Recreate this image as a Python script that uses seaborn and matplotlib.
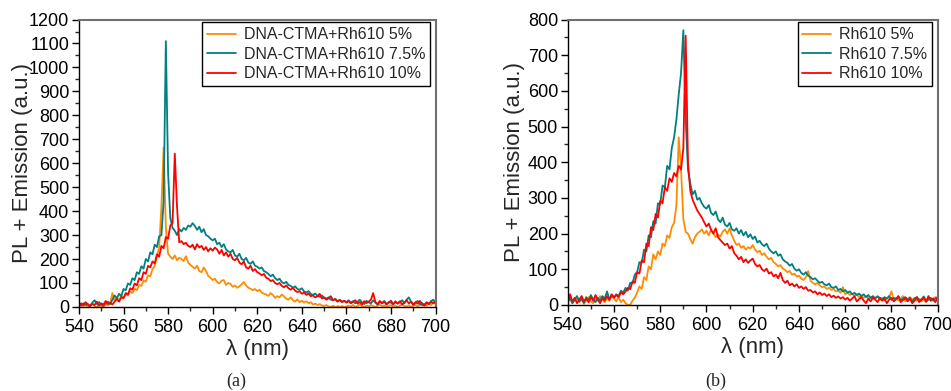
import numpy as np
import pandas as pd
import matplotlib
matplotlib.use("Agg")
import matplotlib.pyplot as plt
from matplotlib.ticker import MultipleLocator
import seaborn as sns

# ---------------- data ----------------
wavelength = list(range(540, 701))  # nm, 1 nm step

left_5 = [8, 12, 3, 10, 0, 6, 14, 4, 0, 9, 5, 0, 10, 7, 14, 58, 25, 40, 28, 46,
          38, 52, 48, 66, 58, 76, 70, 92, 88, 110, 105, 132, 128, 158, 170, 210, 250, 420, 665, 330,
          222, 210, 200, 215, 195, 205, 200, 192, 212, 185, 175, 168, 160, 172, 150, 145, 165, 150, 130, 122,
          112, 118, 104, 98, 110, 112, 92, 100, 96, 84, 90, 80, 86, 94, 104, 90, 80, 76, 70, 75,
          66, 72, 60, 55, 52, 46, 58, 50, 38, 45, 40, 52, 44, 34, 30, 40, 28, 22, 32, 20,
          26, 18, 24, 15, 20, 10, 14, 8, 12, 6, 4, 8, 2, 0, 5, 0, 3, 0, 4, 0,
          2, 5, 2, 8, 0, 4, 10, 3, 0, 6, 2, 8, 4, 0, 5, 10, 3, 6, 0, 4,
          8, 2, 6, 0, 5, 10, 4, 2, 7, 0, 5, 8, 3, 10, 6, 12, 4, 15, 8, 20, 12]

left_75 = [10, 5, 15, 8, 12, 3, 18, 28, 12, 20, 10, 5, 15, 22, 12, 30, 48, 36, 55, 45,
           75, 70, 98, 92, 120, 112, 145, 138, 170, 160, 200, 190, 228, 220, 260, 250, 295, 300, 440, 1110,
           560, 372, 330, 318, 300, 325, 315, 330, 322, 340, 335, 350, 338, 322, 335, 312, 325, 300, 295, 285,
           278, 285, 262, 268, 250, 262, 240, 232, 228, 238, 215, 210, 222, 200, 195, 205, 185, 180, 190, 172,
           168, 160, 165, 150, 145, 138, 128, 135, 120, 112, 118, 104, 98, 105, 92, 88, 80, 86, 75, 72,
           78, 65, 60, 66, 55, 50, 56, 46, 42, 48, 38, 35, 40, 30, 28, 34, 24, 30, 22, 26,
           20, 28, 18, 24, 15, 22, 30, 18, 12, 25, 20, 14, 28, 18, 10, 22, 16, 25, 12, 20,
           18, 10, 24, 14, 20, 28, 15, 30, 40, 22, 12, 18, 25, 10, 16, 8, 20, 12, 25, 30, 18]

left_10 = [5, 15, 8, 20, 10, 4, 12, 8, 22, 5, 15, 10, 25, 12, 18, 10, 22, 32, 22, 40,
           36, 58, 52, 78, 72, 98, 90, 120, 112, 145, 138, 172, 165, 190, 182, 220, 210, 255, 245, 292,
           285, 340, 350, 640, 420, 270, 275, 262, 268, 255, 250, 260, 240, 262, 248, 255, 238, 250, 232, 245,
           235, 248, 240, 222, 238, 215, 228, 210, 222, 200, 195, 205, 185, 178, 190, 165, 160, 172, 150, 158,
           145, 140, 132, 138, 122, 118, 108, 112, 100, 95, 100, 88, 82, 90, 78, 72, 80, 68, 62, 66,
           55, 60, 50, 56, 45, 48, 40, 44, 55, 35, 40, 30, 36, 45, 28, 32, 22, 28, 20, 25,
           18, 24, 15, 22, 28, 14, 20, 10, 24, 16, 22, 30, 58, 20, 12, 25, 15, 22, 10, 18,
           26, 12, 20, 14, 24, 10, 18, 28, 15, 22, 8, 20, 14, 25, 10, 5, 18, 12, 22, 15, 20]

right_5 = [10, 18, 5, 12, 20, 8, 15, 3, 12, 22, 10, 5, 18, 12, 25, 15, 8, 20, 12, 25,
           18, 10, 22, 8, 15, 5, 0, 0, 12, 20, 35, 52, 45, 78, 70, 108, 100, 142, 128, 150,
           140, 172, 165, 195, 188, 218, 230, 280, 470, 380, 240, 205, 200, 185, 172, 190, 200, 205, 212, 200,
           208, 195, 212, 200, 190, 198, 192, 205, 212, 200, 215, 195, 180, 168, 172, 160, 165, 155, 162, 158,
           168, 155, 148, 152, 140, 145, 135, 128, 132, 120, 115, 108, 112, 102, 98, 92, 95, 85, 88, 80,
           82, 74, 70, 78, 95, 68, 62, 58, 62, 55, 50, 52, 45, 48, 42, 45, 38, 40, 34, 50,
           30, 35, 28, 32, 25, 30, 22, 26, 20, 25, 18, 22, 15, 20, 25, 14, 20, 12, 18, 22,
           38, 15, 20, 12, 18, 25, 10, 18, 22, 15, 20, 12, 18, 10, 15, 8, 20, 12, 18, 22, 15]

right_75 = [8, 20, 5, 15, 25, 10, 18, 6, 22, 12, 28, 15, 8, 20, 12, 25, 18, 38, 15, 28,
            22, 30, 25, 40, 35, 48, 40, 62, 60, 85, 92, 120, 118, 155, 150, 195, 190, 235, 228, 285,
            282, 335, 330, 390, 380, 440, 470, 520, 590, 650, 770, 520, 380, 340, 310, 320, 295, 300, 285, 275,
            270, 280, 258, 252, 262, 240, 232, 245, 225, 220, 230, 212, 208, 215, 200, 210, 195, 205, 190, 198,
            185, 192, 175, 180, 170, 165, 172, 158, 150, 145, 150, 138, 142, 128, 122, 118, 110, 115, 102, 96,
            100, 90, 85, 92, 82, 78, 72, 75, 68, 62, 65, 58, 55, 60, 50, 48, 52, 42, 45, 38,
            42, 35, 38, 30, 34, 28, 32, 25, 30, 22, 28, 20, 25, 18, 24, 20, 15, 22, 18, 25,
            14, 20, 16, 24, 12, 18, 22, 14, 20, 10, 18, 22, 12, 16, 24, 10, 15, 20, 12, 18, 22]

right_10 = [5, 30, 10, 20, 5, 15, 25, 10, 18, 8, 22, 12, 28, 15, 5, 20, 12, 25, 15, 30,
            20, 28, 22, 35, 30, 38, 48, 44, 66, 62, 92, 88, 125, 120, 172, 165, 218, 210, 255, 245,
            292, 285, 330, 320, 355, 345, 370, 360, 390, 380, 440, 755, 400, 320, 295, 280, 265, 255, 245, 232,
            220, 228, 210, 200, 215, 190, 182, 175, 168, 172, 158, 165, 145, 138, 128, 135, 120, 128, 118, 125,
            130, 115, 108, 112, 100, 95, 102, 88, 92, 80, 85, 75, 90, 70, 62, 68, 55, 60, 52, 58,
            48, 52, 45, 50, 40, 42, 35, 38, 30, 35, 28, 32, 25, 30, 22, 26, 20, 24, 18, 22,
            15, 20, 12, 18, 25, 10, 16, 22, 12, 5, 18, 10, 22, 15, 8, 20, 12, 18, 5, 15,
            20, 10, 16, 25, 8, 14, 20, 10, 18, 5, 12, 22, 8, 15, 20, 10, 25, 12, 18, 8, 22]

left_labels = ["DNA-CTMA+Rh610 5%", "DNA-CTMA+Rh610 7.5%", "DNA-CTMA+Rh610 10%"]
right_labels = ["Rh610 5%", "Rh610 7.5%", "Rh610 10%"]
colors = ["#FF8C00", "#008080", "#FF0000"]

# ---------------- style ----------------
sns.set_style("ticks")
plt.rcParams["font.family"] = ["Liberation Sans", "DejaVu Sans"]

fig = plt.figure(figsize=(9.51, 3.91), dpi=100)
axL = fig.add_axes([0.083, 0.215, 0.375, 0.735])
axR = fig.add_axes([0.597, 0.220, 0.389, 0.730])


def draw(ax, series, labels, ymax, ystep, ylabelpad):
    for vals, lab, col in zip(series, labels, colors):
        df = pd.DataFrame({"wl": wavelength, "I": vals})
        sns.lineplot(data=df, x="wl", y="I", ax=ax, color=col, label=lab,
                     linewidth=1.3, estimator=None)
    ax.set_xlim(540, 700)
    ax.set_ylim(0, ymax)
    ax.xaxis.set_major_locator(MultipleLocator(20))
    ax.xaxis.set_minor_locator(MultipleLocator(10))
    ax.yaxis.set_major_locator(MultipleLocator(ystep))
    ax.yaxis.set_minor_locator(MultipleLocator(ystep / 2))
    ax.tick_params(axis="y", which="major", direction="out", length=5,
                   width=1, labelsize=13, pad=2, colors="black")
    ax.tick_params(axis="x", which="major", direction="out", length=5,
                   width=1, labelsize=13, pad=4, colors="black")
    ax.tick_params(axis="both", which="minor", direction="out", length=3, width=1)
    ax.tick_params(top=False, right=False, which="both")
    for s in ["left", "bottom"]:
        ax.spines[s].set_color("black")
        ax.spines[s].set_linewidth(1.0)
    for s in ["top", "right"]:
        ax.spines[s].set_color("#707070")
        ax.spines[s].set_linewidth(1.5)
    ax.set_xlabel("λ (nm)", fontsize=16, labelpad=2)
    ax.set_ylabel("PL + Emission (a.u.)", fontsize=16, labelpad=ylabelpad)
    leg = ax.legend(loc="upper right", bbox_to_anchor=(0.985, 0.99), fontsize=11.5,
                    frameon=True, fancybox=False, edgecolor="black", framealpha=1,
                    handlelength=1.8, labelspacing=0.28, borderpad=0.3,
                    handletextpad=0.5, borderaxespad=0.0)
    leg.get_frame().set_linewidth(1.0)


draw(axL, [left_5, left_75, left_10], left_labels, 1200, 100, -3)
draw(axR, [right_5, right_75, right_10], right_labels, 800, 100, 2)

fig.text(236 / 951, 1 - 381 / 391, "(a)", fontsize=13, ha="center", va="center",
         family=["Liberation Serif", "DejaVu Serif"])
fig.text(716 / 951, 1 - 381 / 391, "(b)", fontsize=13, ha="center", va="center",
         family=["Liberation Serif", "DejaVu Serif"])

fig.savefig("out.png", dpi=100)
